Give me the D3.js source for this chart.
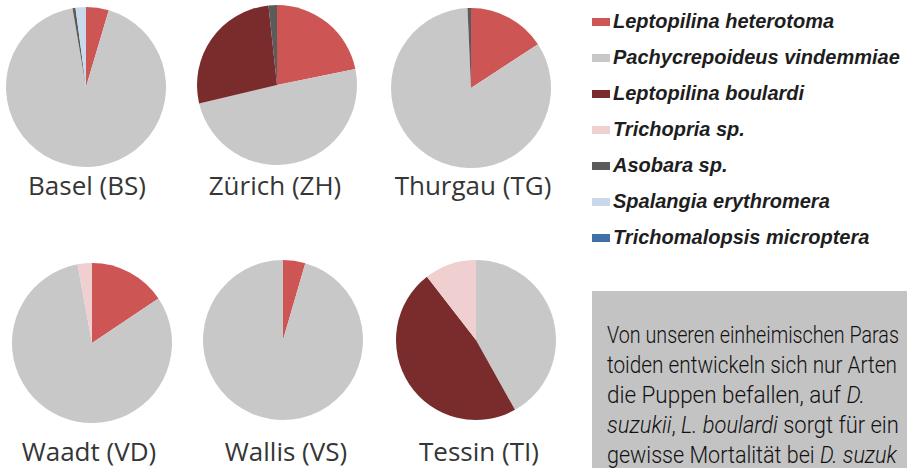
<!DOCTYPE html>
<html>
<head>
<meta charset="utf-8">
<script src="https://cdn.jsdelivr.net/npm/d3@7"></script>
<style>
  body { margin: 0; background: #fff; }
  svg { display: block; }
</style>
</head>
<body>
<svg width="907" height="468"></svg>
<script>
// regions (one pie each)
var regions = ["Basel (BS)", "Zürich (ZH)", "Thurgau (TG)", "Waadt (VD)", "Wallis (VS)", "Tessin (TI)"]

var species = ["Leptopilina heterotoma", "Pachycrepoideus vindemmiae", "Leptopilina boulardi",
  "Trichopria sp.", "Asobara sp.", "Spalangia erythromera", "Trichomalopsis microptera"]

// share (%) per region, same order as regions
var heterotoma     = [4.6, 21.8, 15.8, 15.6, 4.5, 0]
var pachycrepoideus = [92.7, 49.5, 83.5, 81.5, 95.5, 41.9]
var boulardi       = [0, 27.0, 0, 0, 0, 47.6]
var trichopria     = [0, 0, 0, 2.9, 0, 10.5]
var asobara        = [0.6, 1.7, 0.7, 0, 0, 0]
var spalangia      = [2.1, 0, 0, 0, 0, 0]
var trichomalopsis = [0, 0, 0, 0, 0, 0]

var series = [heterotoma, pachycrepoideus, boulardi, trichopria, asobara, spalangia, trichomalopsis]

var colors = ["#cd5553", "#c8c8c8", "#7a2b2b", "#efcfd0", "#5b5b5b", "#c9d9ec", "#3e71a6"]

// the caption as far as it is visible in the cropped figure
var note = [
  [["Von unseren einheimischen Paras", false]],
  [["toiden entwickeln sich nur Arten", false]],
  [["die Puppen befallen, auf ", false], ["D.", true]],
  [["suzukii", true], [", ", false], ["L. boulardi", true], [" sorgt für ein", false]],
  [["gewisse Mortalität bei ", false], ["D. suzuk", true]]
]

function main(){
  var svg = d3.select("svg")

  var color = d3.scaleOrdinal().domain(species).range(colors)

  // pie centres, the scanned layout is slightly skewed between rows
  var centers = [[86, 87], [277, 85], [471, 88], [92, 343], [283, 340], [476, 340]]
  var labelPos = [[87, 195], [275, 195], [473, 195], [89, 461], [286, 461], [479, 461]]

  var radius = 80

  var pie = d3.pie().sort(null).value(function(d){ return d.value })
  var arc = d3.arc().innerRadius(0).outerRadius(radius)

  regions.forEach(function(name, i){
    var data = species.map(function(s, j){
      return {key: s, value: series[j][i]}
    })
    var g = svg.append("g").attr("transform", "translate(" + centers[i][0] + "," + centers[i][1] + ")")

    g.selectAll("path")
      .data(pie(data).filter(function(d){ return d.data.value > 0 }))
      .enter()
      .append("path")
      .attr("d", arc)
      .attr("fill", function(d){ return color(d.data.key) })

    svg.append("text")
      .attr("x", labelPos[i][0])
      .attr("y", labelPos[i][1])
      .attr("text-anchor", "middle")
      .attr("font-family", "'Open Sans', sans-serif")
      .attr("font-size", 26)
      .attr("fill", "#363636")
      .text(name)
  })

  // legend
  var legend = svg.append("g").attr("transform", "translate(592,0)")
  var ly = d3.scalePoint().domain(species).range([28, 244])

  var item = legend.selectAll(".item")
    .data(species)
    .enter()
    .append("g")
    .attr("class", "item")
    .attr("transform", function(d){ return "translate(0," + ly(d) + ")" })

  item.append("rect")
    .attr("x", 0)
    .attr("y", -10)
    .attr("width", 18)
    .attr("height", 8)
    .attr("fill", function(d){ return color(d) })

  item.append("text")
    .attr("x", 21)
    .attr("y", 0)
    .attr("font-family", "'Liberation Sans', Arial, sans-serif")
    .attr("font-weight", "bold")
    .attr("font-style", "italic")
    .attr("font-size", 20)
    .attr("fill", "#1e1e1e")
    .text(function(d){ return d })

  // grey text box
  svg.append("rect")
    .attr("x", 592)
    .attr("y", 291)
    .attr("width", 315)
    .attr("height", 177)
    .attr("fill", "#c3c3c3")

  var lineY = d3.scaleLinear().domain([0, 4]).range([343, 463])
  var lineLen = [292, 290, 258, 292, 290]

  // squeeze each line horizontally (the original face is narrower than Roboto)
  note.forEach(function(parts, i){
    var g = svg.append("g")
    var t = g.append("text")
      .attr("x", 0)
      .attr("y", 0)
      .attr("font-family", "Roboto, sans-serif")
      .attr("font-size", 24)
      .attr("font-weight", 300)
      .attr("fill", "#111")
    parts.forEach(function(p){
      var s = t.append("tspan").text(p[0])
      if (p[1]) s.attr("font-style", "italic")
    })
    var w = t.node().getComputedTextLength()
    var sx = lineLen[i] / w
    g.attr("transform", "translate(607," + lineY(i) + ") scale(" + sx + ",1)")
  })
}
main()
</script>
</body>
</html>
